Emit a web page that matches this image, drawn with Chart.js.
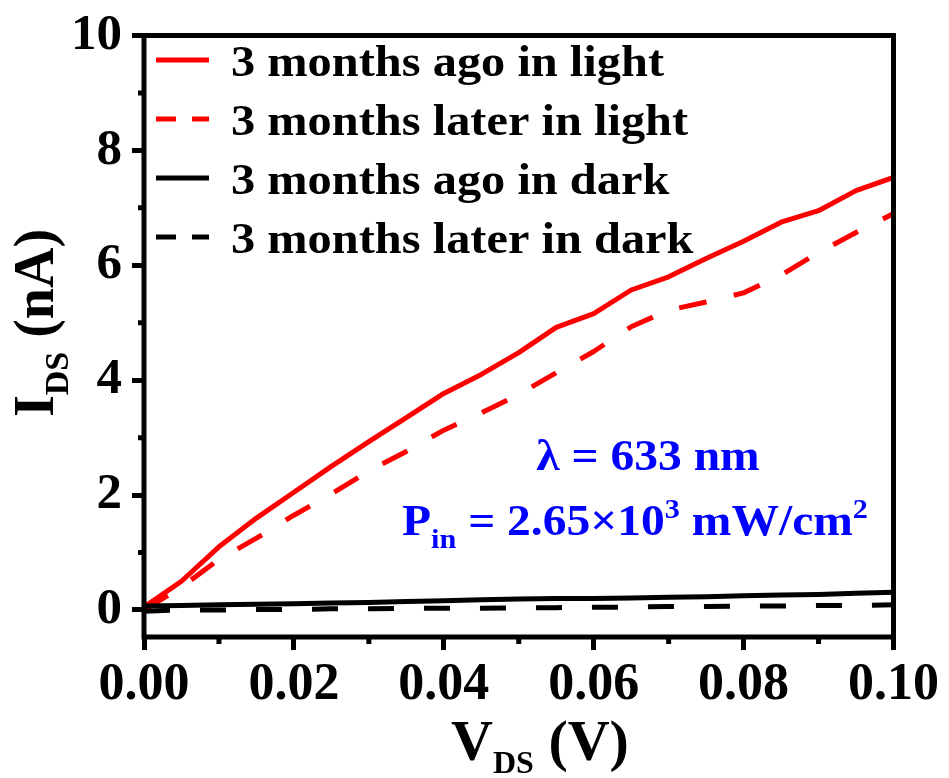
<!DOCTYPE html>
<html>
<head>
<meta charset="utf-8">
<script src="https://cdn.jsdelivr.net/npm/chart.js@4"></script>
<style>
  body { margin: 0; background: #fff; }
  #wrap { width: 949px; height: 778px; }
</style>
</head>
<body>
<div id="wrap"><canvas id="chart-1" width="949" height="778"></canvas></div>
<script>
const xValues = [0, 0.005, 0.01, 0.015, 0.02, 0.025, 0.03, 0.035, 0.04, 0.045, 0.05,
                 0.055, 0.06, 0.065, 0.07, 0.075, 0.08, 0.085, 0.09, 0.095, 0.10];
const agoLight = [0.05, 0.5, 1.1, 1.6, 2.05, 2.5, 2.93, 3.35, 3.77, 4.1, 4.48,
                  4.92, 5.16, 5.57, 5.8, 6.12, 6.42, 6.75, 6.95, 7.3, 7.53];
const laterLight = [0.0, 0.4, 0.88, 1.25, 1.65, 2.02, 2.42, 2.76, 3.13, 3.43, 3.75,
                    4.13, 4.5, 4.93, 5.22, 5.36, 5.52, 5.83, 6.22, 6.57, 6.9];
const agoDark = [0.07, 0.08, 0.09, 0.1, 0.11, 0.12, 0.13, 0.15, 0.16, 0.18, 0.19,
                 0.2, 0.2, 0.21, 0.22, 0.23, 0.25, 0.26, 0.27, 0.29, 0.31];
const laterDark = [-0.02, 0.0, 0.0, 0.01, 0.01, 0.02, 0.02, 0.03, 0.03, 0.03, 0.04,
                   0.04, 0.05, 0.05, 0.06, 0.06, 0.07, 0.07, 0.08, 0.08, 0.09];
const seriesNames = ['3 months ago in light', '3 months later in light',
                     '3 months ago in dark', '3 months later in dark'];
const xTicks = [0, 0.02, 0.04, 0.06, 0.08, 0.10];
const xMinor = [0.01, 0.03, 0.05, 0.07, 0.09];
const yTicks = [0, 2, 4, 6, 8, 10];
const yMinor = [1, 3, 5, 7, 9];

const FONT = "'Liberation Serif', 'Times New Roman', serif";
const RED = '#ff0000';
const BLUE = '#0000ff';
const seriesColors = [RED, RED, '#000000', '#000000'];
const seriesDash = [[], [28, 28], [], [26, 30]];
const legendDash = [[], [20, 16], [], [20, 16]];

Chart.defaults.font.family = FONT;
Chart.defaults.font.weight = 'bold';
Chart.defaults.color = '#000';

const pts = arr => xValues.map((x, i) => ({ x: x, y: arr[i] }));

// rich text: parts = [text, size, dy]
function richWidth(ctx, parts) {
  let w = 0;
  parts.forEach(p => { ctx.font = 'bold ' + p[1] + 'px ' + FONT; w += ctx.measureText(p[0]).width; });
  return w;
}
function drawRich(ctx, parts, x, y, sx) {
  ctx.save();
  ctx.translate(x, y);
  ctx.scale(sx, 1);
  let cx = 0;
  parts.forEach(p => {
    ctx.font = 'bold ' + p[1] + 'px ' + FONT;
    ctx.fillText(p[0], cx, p[2]);
    cx += ctx.measureText(p[0]).width;
  });
  ctx.restore();
}

const decor = {
  id: 'decor',
  afterDraw(chart) {
    const ctx = chart.ctx;
    const a = chart.chartArea;
    const xs = chart.scales.x, ys = chart.scales.y;
    ctx.save();
    ctx.strokeStyle = '#000';
    ctx.fillStyle = '#000';

    // frame
    ctx.lineWidth = 5;
    ctx.strokeRect(a.left, a.top, a.right - a.left, a.bottom - a.top);

    // minor ticks
    ctx.lineWidth = 5;
    ctx.beginPath();
    xMinor.forEach(v => {
      const px = xs.getPixelForValue(v);
      ctx.moveTo(px, a.bottom); ctx.lineTo(px, a.bottom + 7);
    });
    yMinor.forEach(v => {
      const py = ys.getPixelForValue(v);
      ctx.moveTo(a.left, py); ctx.lineTo(a.left - 6, py);
    });
    ctx.stroke();

    // axis titles
    ctx.textAlign = 'left';
    ctx.textBaseline = 'alphabetic';
    const xt = [['V', 58, 0], ['DS', 32, 13], [' (V)', 58, 0]];
    drawRich(ctx, xt, 540 - richWidth(ctx, xt) / 2, 760, 1);
    const yt = [['I', 56, 0], ['DS', 34, 15], [' (nA)', 56, 0]];
    ctx.save();
    ctx.translate(53, 323);
    ctx.rotate(-Math.PI / 2);
    drawRich(ctx, yt, -richWidth(ctx, yt) / 2, 0, 1);
    ctx.restore();

    // legend
    seriesNames.forEach((name, i) => {
      const cy = 60 + i * 59;
      ctx.strokeStyle = seriesColors[i];
      ctx.lineWidth = 5;
      ctx.setLineDash(legendDash[i]);
      ctx.beginPath();
      ctx.moveTo(156, cy); ctx.lineTo(209, cy);
      ctx.stroke();
      ctx.setLineDash([]);
      ctx.fillStyle = '#000';
      drawRich(ctx, [[name, 44, 0]], 231, cy + 16, 1.1);
    });

    // annotation
    ctx.fillStyle = BLUE;
    const l1 = [['\u03bb = 633 nm', 44, 0]];
    drawRich(ctx, l1, 648 - richWidth(ctx, l1) * 1.08 / 2, 470, 1.08);
    const l2 = [['P', 44, 0], ['in', 28, 13], [' = 2.65\u00d710', 44, 0], ['3', 28, -17],
                [' mW/cm', 44, 0], ['2', 28, -17]];
    drawRich(ctx, l2, 402, 535, 1.08);
    ctx.restore();
  }
};

const chartOne = document.getElementById('chart-1');

new Chart(chartOne, {
  type: 'line',
  data: {
    datasets: [
      { label: seriesNames[3], data: pts(laterDark), borderColor: seriesColors[3], borderDash: seriesDash[3] },
      { label: seriesNames[2], data: pts(agoDark), borderColor: seriesColors[2], borderDash: seriesDash[2] },
      { label: seriesNames[1], data: pts(laterLight), borderColor: seriesColors[1], borderDash: seriesDash[1] },
      { label: seriesNames[0], data: pts(agoLight), borderColor: seriesColors[0], borderDash: seriesDash[0] },
    ]
  },
  options: {
    responsive: false,
    animation: false,
    layout: { padding: { top: 32, right: 54, left: 0, bottom: 0 } },
    elements: {
      line: { borderWidth: 5, tension: 0, fill: false, borderCapStyle: 'butt', borderJoinStyle: 'round' },
      point: { radius: 0 }
    },
    plugins: { legend: { display: false }, tooltip: { enabled: false } },
    scales: {
      x: {
        type: 'linear', min: 0, max: 0.1,
        afterBuildTicks: s => { s.ticks = xTicks.map(v => ({ value: v })); },
        afterFit: s => { s.height = 141; },
        ticks: { callback: v => v.toFixed(2), font: { size: 52, weight: 'bold', lineHeight: 1 }, color: '#000',
                 padding: 10, maxRotation: 0, autoSkip: false },
        grid: { drawOnChartArea: false, tickLength: 13, tickWidth: 5, tickColor: '#000' },
        border: { display: false }
      },
      y: {
        type: 'linear', min: -0.47, max: 10,
        afterBuildTicks: s => { s.ticks = yTicks.map(v => ({ value: v })); },
        afterFit: s => { s.width = 144; },
        ticks: { callback: v => String(v), font: { size: 51, weight: 'bold', lineHeight: 1 }, color: '#000', padding: 10 },
        grid: { drawOnChartArea: false, tickLength: 12, tickWidth: 5, tickColor: '#000' },
        border: { display: false }
      }
    }
  },
  plugins: [decor]
});
</script>
</body>
</html>
